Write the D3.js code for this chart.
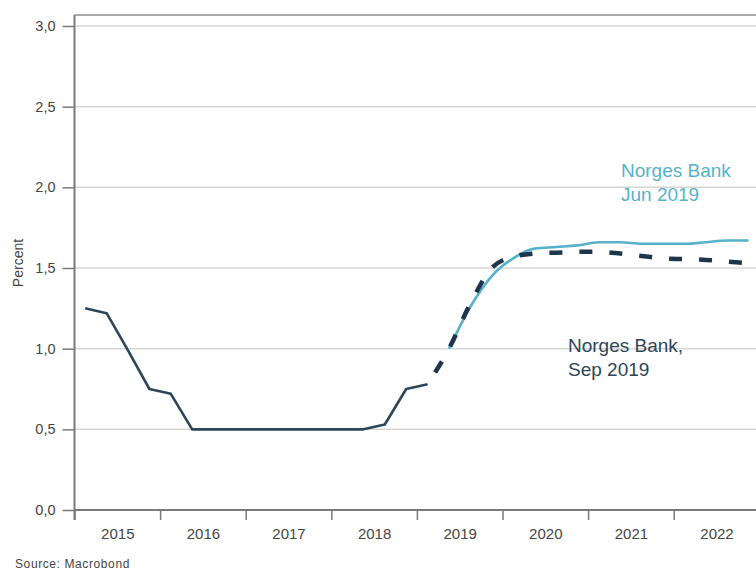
<!DOCTYPE html>
<html>
<head>
<meta charset="utf-8">
<script src="https://cdn.jsdelivr.net/npm/d3@7"></script>
<style>
  html, body { margin: 0; padding: 0; background: #fff; }
  svg { display: block; font-family: "Liberation Sans", Arial, sans-serif; }
</style>
</head>
<body>
<svg id="chart" width="756" height="570"></svg>
<script>
// ---- data ----
const years = [2015, 2016, 2017, 2018, 2019, 2020, 2021, 2022];
const yTicks = [0, 0.5, 1.0, 1.5, 2.0, 2.5, 3.0];
const yTickLabels = ["0,0", "0,5", "1,0", "1,5", "2,0", "2,5", "3,0"];

const histPeriods = ["2015Q1","2015Q2","2015Q3","2015Q4","2016Q1","2016Q2","2016Q3","2016Q4",
  "2017Q1","2017Q2","2017Q3","2017Q4","2018Q1","2018Q2","2018Q3","2018Q4","2019Q1"];
const histValues = [1.25, 1.22, 0.99, 0.75, 0.72, 0.50, 0.50, 0.50,
  0.50, 0.50, 0.50, 0.50, 0.50, 0.50, 0.53, 0.75, 0.78];

const sepPeriods = ["2019Q1","2019Q2","2019Q3","2019Q4","2020Q1","2020Q2","2020Q3","2020Q4",
  "2021Q1","2021Q2","2021Q3","2021Q4","2022Q1","2022Q2","2022Q3","2022Q4"];
const sepValues = [0.78, 1.00, 1.28, 1.50, 1.57, 1.59, 1.595, 1.60,
  1.60, 1.59, 1.575, 1.56, 1.555, 1.55, 1.54, 1.53];

const junPeriods = ["2019Q2","2019Q3","2019Q4","2020Q1","2020Q2","2020Q3","2020Q4",
  "2021Q1","2021Q2","2021Q3","2021Q4","2022Q1","2022Q2","2022Q3","2022Q4"];
const junValues = [1.00, 1.26, 1.45, 1.56, 1.62, 1.63, 1.64,
  1.66, 1.66, 1.65, 1.65, 1.65, 1.66, 1.67, 1.67];

const labelJun = ["Norges Bank", "Jun 2019"];
const labelSep = ["Norges Bank,", "Sep 2019"];
const yTitle = "Percent";
const source = "Source: Macrobond";

// ---- helpers ----
function qToYear(p) {
  const yr = +p.slice(0, 4), q = +p.slice(5);
  return yr + (q - 1) * 0.25 + 0.125;
}
function series(periods, values) {
  return periods.map((p, i) => ({ t: qToYear(p), v: values[i] }));
}

// ---- layout ----
const svg = d3.select("#chart");
const W = 756, H = 570;
const x = d3.scaleLinear().domain([2015, 2023]).range([74.5, 759.3]);
const y = d3.scaleLinear().domain([0, 3]).range([510, 26]);
const plotTop = 15, plotRight = W;

const colHist = "#2c4659";
const colSep = "#1d354d";
const colJun = "#56b2ca";
const axisCol = "#7a7a7a";
const textCol = "#454545";

// gridlines
svg.append("g").selectAll("line")
  .data(yTicks.filter(d => d > 0))
  .join("line")
  .attr("x1", x(2015)).attr("x2", plotRight)
  .attr("y1", d => y(d)).attr("y2", d => y(d))
  .attr("stroke", "#d6d6d6").attr("stroke-width", 1.5);

// top frame line
svg.append("line")
  .attr("x1", x(2015)).attr("x2", plotRight)
  .attr("y1", plotTop).attr("y2", plotTop)
  .attr("stroke", "#8c8c8c").attr("stroke-width", 1.5);

// y axis
const yAxis = d3.axisLeft(y).tickValues(yTicks).tickSize(12).tickPadding(7)
  .tickFormat((d, i) => yTickLabels[i]);
const gy = svg.append("g").attr("transform", `translate(${x(2015)},0)`).call(yAxis);
gy.select(".domain").remove();
gy.selectAll(".tick line").attr("stroke", axisCol).attr("stroke-width", 1.5);
gy.selectAll(".tick text").attr("fill", textCol).style("font-size", "14.5px");

// left axis line
svg.append("line")
  .attr("x1", x(2015)).attr("x2", x(2015))
  .attr("y1", plotTop).attr("y2", y(0) + 10)
  .attr("stroke", axisCol).attr("stroke-width", 2);

// x axis
const xAxis = d3.axisBottom(x).tickValues(years).tickSize(10).tickFormat("");
const gx = svg.append("g").attr("transform", `translate(0,${y(0)})`).call(xAxis);
gx.select(".domain").remove();
gx.selectAll(".tick line").attr("stroke", axisCol).attr("stroke-width", 1.5);
svg.append("line")
  .attr("x1", x(2015)).attr("x2", plotRight)
  .attr("y1", y(0)).attr("y2", y(0))
  .attr("stroke", axisCol).attr("stroke-width", 2);

// year labels
const xLab = d3.axisBottom(x).tickValues(years.map(d => d + 0.5)).tickSize(0).tickPadding(18)
  .tickFormat(d => String(Math.floor(d)));
const gxl = svg.append("g").attr("transform", `translate(0,${y(0)})`).call(xLab);
gxl.select(".domain").remove();
gxl.selectAll(".tick text").attr("fill", textCol).style("font-size", "15px");

// y title
svg.append("text")
  .attr("transform", `translate(23,263) rotate(-90)`)
  .attr("text-anchor", "middle")
  .attr("fill", textCol).style("font-size", "14px")
  .text(yTitle);

// source
svg.append("text")
  .attr("x", 15).attr("y", 568)
  .attr("fill", textCol).style("font-size", "12px").style("letter-spacing", "0.6px")
  .text(source);

// lines
const lineLin = d3.line().x(d => x(d.t)).y(d => y(d.v));
const lineSm = d3.line().x(d => x(d.t)).y(d => y(d.v)).curve(d3.curveMonotoneX);

svg.append("path")
  .datum(series(junPeriods, junValues))
  .attr("d", lineSm)
  .attr("fill", "none").attr("stroke", colJun).attr("stroke-width", 2.6);

svg.append("path")
  .datum(series(histPeriods, histValues))
  .attr("d", lineLin)
  .attr("fill", "none").attr("stroke", colHist).attr("stroke-width", 2.6)
  .attr("stroke-linejoin", "round");

svg.append("path")
  .datum(series(sepPeriods, sepValues))
  .attr("d", lineSm)
  .attr("fill", "none").attr("stroke", colSep).attr("stroke-width", 4.5)
  .attr("stroke-dasharray", "13,17").attr("stroke-dashoffset", -14);

// annotations
const tJun = svg.append("text").attr("fill", colJun).style("font-size", "19px");
labelJun.forEach((s, i) => tJun.append("tspan").attr("x", 621).attr("y", 177 + i * 24).text(s));
const tSep = svg.append("text").attr("fill", "#2d4658").style("font-size", "19px");
labelSep.forEach((s, i) => tSep.append("tspan").attr("x", 568).attr("y", 352 + i * 24).text(s));
</script>
</body>
</html>
